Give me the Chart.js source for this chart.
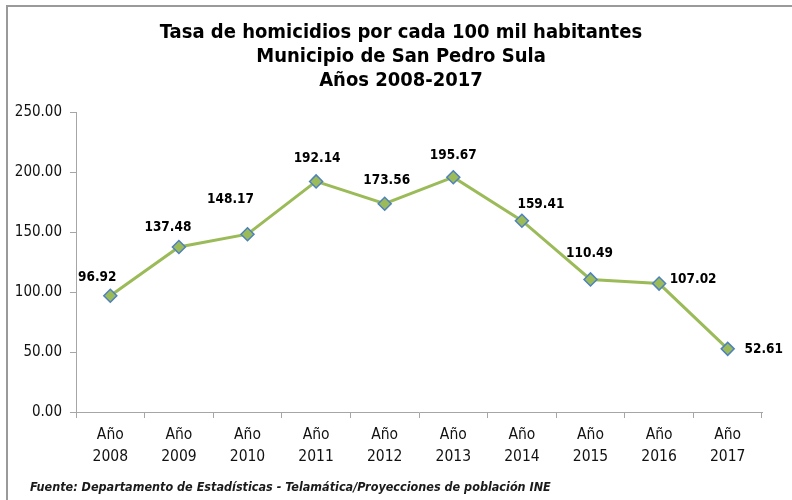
<!DOCTYPE html>
<html>
<head>
<meta charset="utf-8">
<script src="https://cdn.jsdelivr.net/npm/chart.js@4"></script>
<style>
  html, body { margin: 0; padding: 0; background: #fff; }
  #wrap { position: relative; width: 792px; height: 500px; }
  #frame {
    position: absolute; left: 6px; top: 5px; right: 0; bottom: 0;
    border-top: 2px solid #9a9a9a; border-left: 2px solid #9a9a9a;
    pointer-events: none;
  }
</style>
</head>
<body>
<div id="wrap">
  <canvas id="chart" width="792" height="500"></canvas>
  <div id="frame"></div>
</div>
<script>
const years = ['2008', '2009', '2010', '2011', '2012', '2013', '2014', '2015', '2016', '2017'];
const tasas = [96.92, 137.48, 148.17, 192.14, 173.56, 195.67, 159.41, 110.49, 107.02, 52.61];
const yTicks = [0, 50, 100, 150, 200, 250];
const titulo = ['Tasa de homicidios por cada 100 mil habitantes', 'Municipio de San Pedro Sula', 'Años 2008-2017'];
const fuenteTexto = 'Fuente: Departamento de Estadísticas - Telamática/Proyecciones de población INE';

// where each value label sits relative to its marker (px)
const labelOffsets = [
  [-13, -18], [-11, -20], [-17, -35], [1, -23], [2, -23],
  [0, -22], [19, -16], [-1, -26], [34, -4], [36, 1]
];

const FONT = '"DejaVu Sans Condensed", "DejaVu Sans", sans-serif';

const valueLabels = {
  id: 'valueLabels',
  afterDatasetsDraw(chart) {
    const ctx = chart.ctx;
    const meta = chart.getDatasetMeta(0);
    ctx.save();
    ctx.font = 'bold 13.5px ' + FONT;
    ctx.fillStyle = '#000';
    ctx.textAlign = 'center';
    ctx.textBaseline = 'middle';
    meta.data.forEach((pt, i) => {
      const [dx, dy] = labelOffsets[i];
      ctx.fillText(tasas[i].toFixed(2), pt.x + dx, pt.y + dy);
    });
    ctx.restore();
  }
};

// title block and source note, drawn straight on the canvas
const textos = {
  id: 'textos',
  afterDraw(chart) {
    const ctx = chart.ctx;
    ctx.save();
    ctx.fillStyle = '#000';
    ctx.textAlign = 'center';
    ctx.textBaseline = 'middle';
    ctx.font = 'bold 20px ' + FONT;
    titulo.forEach((line, i) => ctx.fillText(line, 401, 33 + i * 24));
    ctx.font = 'italic bold 12.5px ' + FONT;
    ctx.fillStyle = '#1a1a1a';
    ctx.textAlign = 'left';
    ctx.fillText(fuenteTexto, 30, 488);
    ctx.restore();
  }
};

const ctx = document.getElementById('chart').getContext('2d');
new Chart(ctx, {
  type: 'line',
  data: {
    labels: years.map(y => ['Año', y]),
    datasets: [{
      data: tasas,
      borderColor: '#9bbb59',
      borderWidth: 3,
      tension: 0,
      fill: false,
      pointStyle: 'rectRot',
      pointRadius: 6.5,
      pointHoverRadius: 6.5,
      pointBackgroundColor: '#9bbb59',
      pointBorderColor: '#4f81bd',
      pointBorderWidth: 1.5
    }]
  },
  options: {
    responsive: false,
    animation: false,
    layout: { padding: { left: 8, right: 30, top: 112, bottom: 28 } },
    plugins: {
      legend: { display: false },
      tooltip: { enabled: false },
      title: { display: false }
    },
    scales: {
      x: {
        offset: true,
        grid: { offset: true, drawOnChartArea: false, drawTicks: true, tickLength: 6, color: '#a6a6a6' },
        border: { color: '#a6a6a6', width: 1 },
        ticks: {
          color: '#111',
          padding: 6,
          maxRotation: 0,
          font: { family: FONT, size: 15.5, lineHeight: 1.42 }
        },
        afterFit(scale) { scale.height = 60; }
      },
      y: {
        min: 0,
        max: 250,
        afterBuildTicks(scale) { scale.ticks = yTicks.map(v => ({ value: v })); },
        grid: { drawOnChartArea: false, drawTicks: true, tickLength: 6, color: '#a6a6a6' },
        border: { color: '#a6a6a6', width: 1 },
        ticks: {
          color: '#111',
          padding: 8,
          font: { family: FONT, size: 15 },
          callback: v => Number(v).toFixed(2)
        },
        afterFit(scale) { scale.width = 68; }
      }
    }
  },
  plugins: [valueLabels, textos]
});
</script>
</body>
</html>
